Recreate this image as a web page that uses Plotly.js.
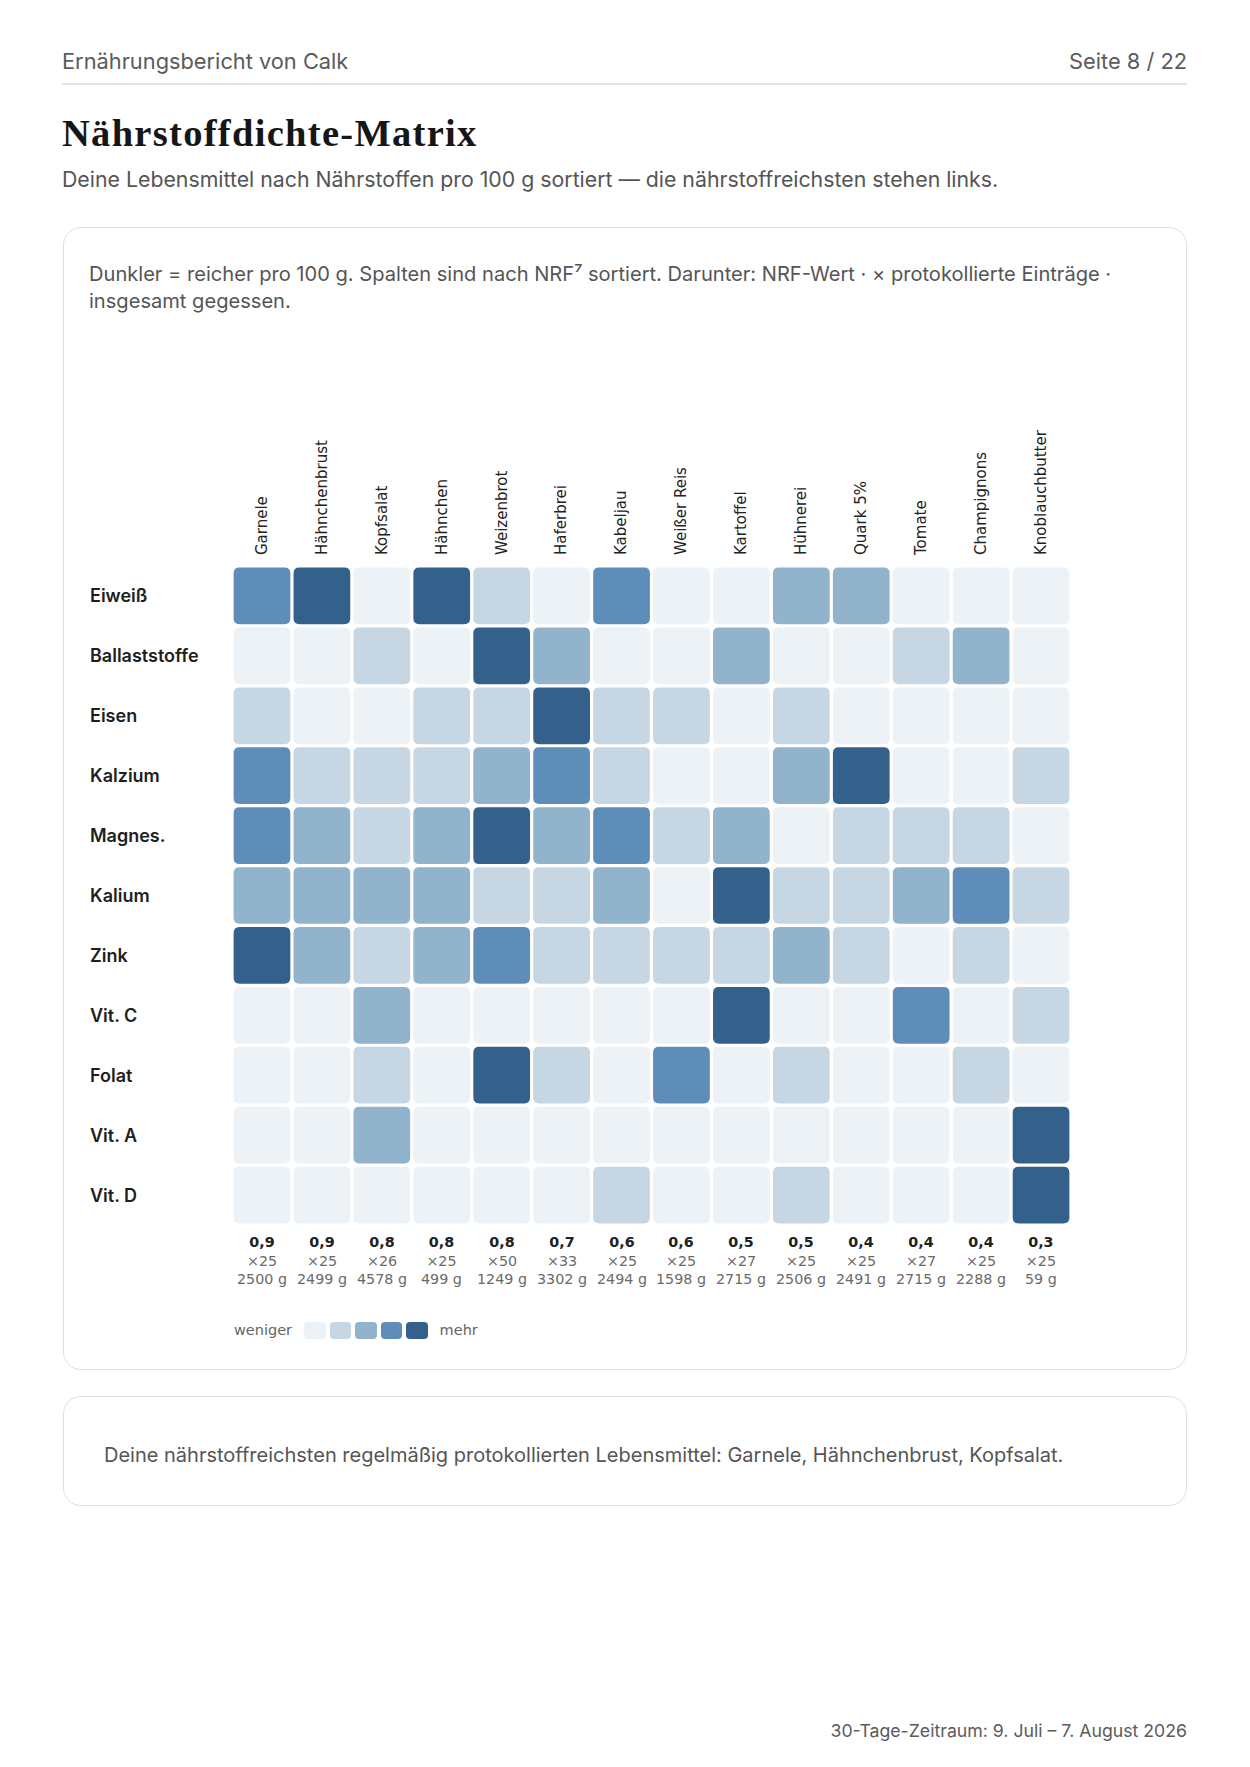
<!DOCTYPE html>
<html lang="de">
<head>
<meta charset="utf-8">
<script src="https://cdn.plot.ly/plotly-3.0.1.min.js"></script>
<style>
html,body{margin:0;padding:0;background:#fff;}
body{width:1250px;height:1767px;position:relative;overflow:hidden;font-family:Inter,"Noto Sans",sans-serif;}
.abs{position:absolute;white-space:nowrap;}
.card{position:absolute;box-sizing:border-box;border:1.5px solid #dedede;border-radius:18px;background:#fff;}
#legend{position:absolute;left:234px;top:1318px;height:24px;display:flex;align-items:center;font-family:"DejaVu Sans",sans-serif;font-size:14.5px;color:#666;}
#legend .sw{width:21.5px;height:17px;border-radius:4px;margin-right:4px;}
</style>
</head>
<body>
<div class="abs" style="left:62px;top:48px;font-size:21.8px;line-height:26px;color:#5b5b5b;">Ernährungsbericht von Calk</div>
<div class="abs" style="right:63px;top:48px;font-size:21.8px;line-height:26px;color:#5b5b5b;">Seite 8 / 22</div>
<div class="abs" style="left:62px;top:83px;width:1125px;height:1.5px;background:#e2e2e2;"></div>
<div class="abs" style="left:62px;top:112px;font-family:'Liberation Serif',serif;font-weight:bold;font-size:38.5px;line-height:42px;letter-spacing:1.3px;color:#161616;">Nährstoffdichte-Matrix</div>
<div class="abs" style="left:62px;top:165px;font-size:21.3px;line-height:28px;color:#555;">Deine Lebensmittel nach Nährstoffen pro 100 g sortiert — die nährstoffreichsten stehen links.</div>

<div class="card" style="left:63px;top:227px;width:1124px;height:1143px;"></div>
<div class="abs" style="left:89px;top:261px;font-size:20.1px;line-height:27px;color:#555;">Dunkler = reicher pro 100 g. Spalten sind nach NRF⁷ sortiert. Darunter: NRF-Wert · × protokollierte Einträge ·<br>insgesamt gegessen.</div>

<div class="card" style="left:63px;top:1396px;width:1124px;height:110px;"></div>
<div class="abs" style="left:104px;top:1441px;font-size:20px;line-height:28px;color:#555;">Deine nährstoffreichsten regelmäßig protokollierten Lebensmittel: Garnele, Hähnchenbrust, Kopfsalat.</div>

<div class="abs" style="right:63px;top:1719px;font-size:17.7px;line-height:24px;color:#5b5b5b;">30-Tage-Zeitraum: 9. Juli – 7. August 2026</div>

<div id="chart" style="position:absolute;left:0;top:0;width:1250px;height:1767px;"></div>
<div id="legend"></div>

<script>
// ---- data ----
const foods = ["Garnele","Hähnchenbrust","Kopfsalat","Hähnchen","Weizenbrot","Haferbrei","Kabeljau","Weißer Reis","Kartoffel","Hühnerei","Quark 5%","Tomate","Champignons","Knoblauchbutter"];
const nutrients = ["Eiweiß","Ballaststoffe","Eisen","Kalzium","Magnes.","Kalium","Zink","Vit. C","Folat","Vit. A","Vit. D"];
// density level 0 (weniger) .. 4 (mehr), one row per nutrient, one column per food
const levelEiweiss      = [3,4,0,4,1,0,3,0,0,2,2,0,0,0];
const levelBallast      = [0,0,1,0,4,2,0,0,2,0,0,1,2,0];
const levelEisen        = [1,0,0,1,1,4,1,1,0,1,0,0,0,0];
const levelKalzium      = [3,1,1,1,2,3,1,0,0,2,4,0,0,1];
const levelMagnes       = [3,2,1,2,4,2,3,1,2,0,1,1,1,0];
const levelKalium       = [2,2,2,2,1,1,2,0,4,1,1,2,3,1];
const levelZink         = [4,2,1,2,3,1,1,1,1,2,1,0,1,0];
const levelVitC         = [0,0,2,0,0,0,0,0,4,0,0,3,0,1];
const levelFolat        = [0,0,1,0,4,1,0,3,0,1,0,0,1,0];
const levelVitA         = [0,0,2,0,0,0,0,0,0,0,0,0,0,4];
const levelVitD         = [0,0,0,0,0,0,1,0,0,1,0,0,0,4];
const nrfScores  = [0.9,0.9,0.8,0.8,0.8,0.7,0.6,0.6,0.5,0.5,0.4,0.4,0.4,0.3];
const logCounts  = [25,25,26,25,50,33,25,25,27,25,25,27,25,25];
const gramsEaten = [2500,2499,4578,499,1249,3302,2494,1598,2715,2506,2491,2715,2288,59];
const palette = ["#edf2f6","#c6d6e3","#92b3cc","#5d8db8","#34608c"];

const levels = [levelEiweiss,levelBallast,levelEisen,levelKalzium,levelMagnes,levelKalium,levelZink,levelVitC,levelFolat,levelVitA,levelVitD];

// ---- cells (rounded squares in data coordinates) ----
const half = 0.4733, rad = 0.1;
function cellPath(cx, cy){
  const x0 = cx-half, x1 = cx+half, y0 = cy-half, y1 = cy+half;
  return `M ${x0+rad} ${y0} L ${x1-rad} ${y0} Q ${x1} ${y0} ${x1} ${y0+rad} L ${x1} ${y1-rad} Q ${x1} ${y1} ${x1-rad} ${y1} L ${x0+rad} ${y1} Q ${x0} ${y1} ${x0} ${y1-rad} L ${x0} ${y0+rad} Q ${x0} ${y0} ${x0+rad} ${y0} Z`;
}
const shapes = [];
const hx = [], hy = [], htext = [];
levels.forEach((row, r) => {
  row.forEach((lv, c) => {
    shapes.push({type:'path', xref:'x', yref:'y', path:cellPath(c, r), fillcolor:palette[lv], line:{width:0}, layer:'below'});
    hx.push(c); hy.push(r); htext.push(`${foods[c]} · ${nutrients[r]}: Stufe ${lv}`);
  });
});

// ---- annotations: row labels + per-column stats ----
const annotations = [];
nutrients.forEach((n, r) => {
  annotations.push({xref:'paper', yref:'y', x:0, y:r, xanchor:'left', yanchor:'middle', xshift:-144,
    text:n, showarrow:false, font:{family:'Inter', size:18, weight:600, color:'#1e1e1e'}});
});
foods.forEach((f, c) => {
  const nrf = nrfScores[c].toFixed(1).replace('.', ',');
  annotations.push({xref:'x', yref:'paper', x:c, y:0, xanchor:'center', yanchor:'top', yshift:-6.5,
    text:`<b>${nrf}</b><br><span style="color:#6a6a6a">×${logCounts[c]}</span><br><span style="color:#6a6a6a">${gramsEaten[c]} g</span>`,
    showarrow:false, align:'center', font:{family:'DejaVu Sans', size:14.3, color:'#222'}});
});

const trace = {type:'scatter', mode:'markers', x:hx, y:hy, text:htext, hovertemplate:'%{text}<extra></extra>',
  marker:{size:50, symbol:'square', color:'rgba(0,0,0,0)'}};

const layout = {
  width:1250, height:1767,
  margin:{l:232.4, r:179.2, t:565.7, b:541.9, pad:0},
  paper_bgcolor:'rgba(0,0,0,0)', plot_bgcolor:'rgba(0,0,0,0)',
  showlegend:false,
  xaxis:{range:[-0.5,13.5], side:'top', tickmode:'array', tickvals:foods.map((f,i)=>i), ticktext:foods,
    tickangle:-90, showgrid:false, zeroline:false, showline:false,
    ticks:'outside', ticklen:7, tickwidth:1, tickcolor:'rgba(0,0,0,0)',
    tickfont:{family:'DejaVu Sans', size:15, color:'#222'}, fixedrange:true},
  yaxis:{range:[10.5,-0.5], showgrid:false, zeroline:false, showline:false, showticklabels:false, fixedrange:true},
  shapes, annotations
};
Plotly.newPlot('chart', [trace], layout, {displayModeBar:false, responsive:false});

// ---- legend ----
const lg = document.getElementById('legend');
const w = document.createElement('span'); w.textContent = 'weniger'; w.style.marginRight = '12px'; lg.appendChild(w);
palette.forEach(col => { const s = document.createElement('span'); s.className = 'sw'; s.style.background = col; lg.appendChild(s); });
const m = document.createElement('span'); m.textContent = 'mehr'; m.style.marginLeft = '8px'; lg.appendChild(m);
</script>
</body>
</html>
